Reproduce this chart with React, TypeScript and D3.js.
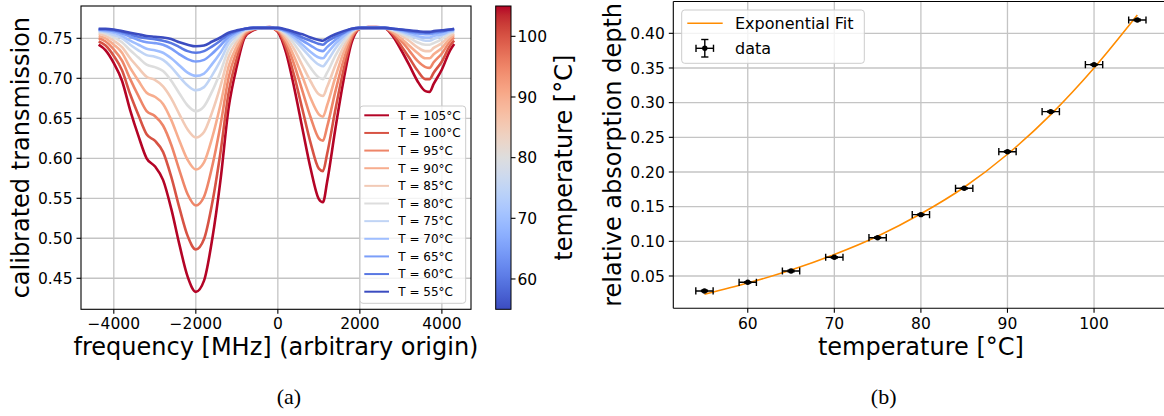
import React from 'react';
import * as d3 from 'd3';

// ---------------- data: spectra (left panel) ----------------
const FREQ = [-4370, -4200, -4000, -3800, -3600, -3400, -3200, -3000, -2800, -2600, -2400, -2200, -2000, -1800, -1600, -1400, -1200, -1000, -800, -600, -400, -200, 0, 200, 400, 600, 800, 1000, 1100, 1200, 1400, 1600, 1800, 2000, 2200, 2400, 2600, 2800, 3000, 3200, 3400, 3600, 3700, 3800, 4000, 4200, 4300];

const trans105 = [0.742, 0.735, 0.719, 0.697, 0.660, 0.628, 0.600, 0.590, 0.573, 0.537, 0.492, 0.452, 0.433, 0.447, 0.499, 0.572, 0.663, 0.715, 0.752, 0.760, 0.763, 0.764, 0.758, 0.732, 0.688, 0.637, 0.587, 0.549, 0.545, 0.570, 0.636, 0.697, 0.745, 0.762, 0.764, 0.764, 0.763, 0.753, 0.736, 0.717, 0.697, 0.684, 0.683, 0.693, 0.711, 0.735, 0.743];
const trans100 = [0.746, 0.741, 0.728, 0.710, 0.680, 0.654, 0.630, 0.622, 0.608, 0.577, 0.538, 0.503, 0.486, 0.499, 0.544, 0.607, 0.682, 0.725, 0.754, 0.761, 0.763, 0.763, 0.759, 0.738, 0.703, 0.661, 0.619, 0.587, 0.584, 0.605, 0.660, 0.710, 0.749, 0.762, 0.763, 0.763, 0.763, 0.755, 0.741, 0.726, 0.710, 0.699, 0.699, 0.707, 0.721, 0.741, 0.747];
const trans95 = [0.750, 0.746, 0.736, 0.722, 0.699, 0.678, 0.659, 0.653, 0.641, 0.617, 0.585, 0.555, 0.541, 0.552, 0.590, 0.641, 0.701, 0.734, 0.756, 0.761, 0.763, 0.763, 0.760, 0.744, 0.717, 0.684, 0.651, 0.625, 0.622, 0.639, 0.683, 0.722, 0.752, 0.762, 0.763, 0.763, 0.763, 0.757, 0.747, 0.735, 0.722, 0.714, 0.713, 0.720, 0.731, 0.746, 0.751];
const trans90 = [0.753, 0.750, 0.742, 0.732, 0.713, 0.697, 0.682, 0.677, 0.668, 0.648, 0.622, 0.598, 0.586, 0.595, 0.626, 0.667, 0.715, 0.740, 0.758, 0.762, 0.763, 0.763, 0.761, 0.748, 0.727, 0.702, 0.675, 0.655, 0.652, 0.666, 0.701, 0.732, 0.755, 0.763, 0.763, 0.763, 0.763, 0.758, 0.750, 0.741, 0.732, 0.725, 0.725, 0.730, 0.738, 0.750, 0.754];
const trans85 = [0.756, 0.753, 0.747, 0.739, 0.725, 0.713, 0.702, 0.698, 0.690, 0.675, 0.655, 0.636, 0.626, 0.633, 0.658, 0.690, 0.727, 0.746, 0.759, 0.762, 0.763, 0.763, 0.761, 0.752, 0.736, 0.716, 0.696, 0.680, 0.678, 0.689, 0.716, 0.739, 0.757, 0.763, 0.763, 0.763, 0.763, 0.760, 0.754, 0.747, 0.739, 0.734, 0.734, 0.738, 0.744, 0.753, 0.756];
const trans80 = [0.758, 0.756, 0.751, 0.745, 0.735, 0.726, 0.717, 0.714, 0.709, 0.697, 0.681, 0.666, 0.659, 0.665, 0.684, 0.708, 0.736, 0.750, 0.760, 0.762, 0.763, 0.763, 0.762, 0.755, 0.743, 0.728, 0.713, 0.701, 0.699, 0.707, 0.728, 0.745, 0.758, 0.763, 0.763, 0.763, 0.763, 0.760, 0.756, 0.751, 0.745, 0.742, 0.742, 0.744, 0.749, 0.756, 0.758];
const trans75 = [0.759, 0.758, 0.754, 0.750, 0.742, 0.735, 0.729, 0.727, 0.723, 0.714, 0.702, 0.691, 0.685, 0.689, 0.704, 0.722, 0.743, 0.754, 0.761, 0.762, 0.763, 0.763, 0.762, 0.757, 0.748, 0.737, 0.726, 0.717, 0.715, 0.721, 0.737, 0.750, 0.760, 0.763, 0.763, 0.763, 0.763, 0.761, 0.758, 0.754, 0.750, 0.747, 0.747, 0.749, 0.753, 0.758, 0.759];
const trans70 = [0.760, 0.759, 0.757, 0.753, 0.747, 0.742, 0.737, 0.735, 0.732, 0.725, 0.716, 0.707, 0.703, 0.706, 0.718, 0.732, 0.748, 0.756, 0.761, 0.763, 0.763, 0.763, 0.762, 0.758, 0.751, 0.742, 0.733, 0.726, 0.725, 0.731, 0.743, 0.753, 0.760, 0.763, 0.763, 0.763, 0.763, 0.762, 0.759, 0.756, 0.753, 0.751, 0.751, 0.753, 0.755, 0.759, 0.760];
const trans65 = [0.761, 0.760, 0.759, 0.756, 0.752, 0.748, 0.745, 0.744, 0.742, 0.737, 0.730, 0.724, 0.721, 0.723, 0.731, 0.741, 0.752, 0.758, 0.762, 0.763, 0.763, 0.763, 0.762, 0.759, 0.754, 0.747, 0.741, 0.735, 0.734, 0.739, 0.748, 0.756, 0.761, 0.763, 0.763, 0.763, 0.763, 0.762, 0.760, 0.758, 0.756, 0.755, 0.755, 0.756, 0.758, 0.760, 0.761];
const trans60 = [0.761, 0.761, 0.760, 0.758, 0.755, 0.752, 0.750, 0.749, 0.747, 0.744, 0.739, 0.734, 0.732, 0.734, 0.740, 0.747, 0.755, 0.759, 0.762, 0.763, 0.763, 0.763, 0.763, 0.760, 0.756, 0.751, 0.747, 0.743, 0.742, 0.746, 0.752, 0.757, 0.762, 0.763, 0.763, 0.763, 0.763, 0.762, 0.761, 0.759, 0.758, 0.757, 0.757, 0.758, 0.759, 0.761, 0.761];
const trans55 = [0.762, 0.762, 0.761, 0.759, 0.757, 0.755, 0.753, 0.752, 0.751, 0.749, 0.745, 0.742, 0.740, 0.741, 0.746, 0.751, 0.757, 0.760, 0.762, 0.763, 0.763, 0.763, 0.763, 0.761, 0.758, 0.755, 0.751, 0.748, 0.747, 0.750, 0.755, 0.759, 0.762, 0.763, 0.763, 0.763, 0.763, 0.762, 0.761, 0.760, 0.759, 0.758, 0.758, 0.759, 0.760, 0.761, 0.762];

const TEMPS = [105, 100, 95, 90, 85, 80, 75, 70, 65, 60, 55];
const SPECTRA = [trans105, trans100, trans95, trans90, trans85, trans80, trans75, trans70, trans65, trans60, trans55];

const LEFT_X_TICKS = [-4000, -2000, 0, 2000, 4000];
const LEFT_Y_TICKS = [0.45, 0.5, 0.55, 0.6, 0.65, 0.7, 0.75];
const CBAR_TICKS = [60, 70, 80, 90, 100];

// ---------------- data: absorption depth (right panel) ----------------
const TEMP_POINTS = [55, 60, 65, 70, 75, 80, 85, 90, 95, 100, 105];
const DEPTH = [0.0284, 0.0409, 0.0572, 0.0770, 0.1052, 0.1385, 0.1765, 0.2293, 0.2870, 0.3548, 0.4192];
const TEMP_ERR = [1, 1, 1, 1, 1, 1, 1, 1, 1, 1, 1];
const DEPTH_ERR = [0.001, 0.001, 0.001, 0.001, 0.001, 0.001, 0.001, 0.001, 0.001, 0.001, 0.001];
const FIT = [0.0236, 0.0398, 0.0586, 0.0810, 0.1073, 0.1397, 0.1780, 0.2256, 0.2828, 0.3500, 0.4264];

const RIGHT_X_TICKS = [60, 70, 80, 90, 100];
const RIGHT_Y_TICKS = [0.05, 0.1, 0.15, 0.2, 0.25, 0.3, 0.35, 0.4];

// coolwarm colormap control colours
const COOLWARM = ['#3b4cc0', '#445acc', '#4d68d7', '#5775e1', '#6282ea', '#6c8ef1', '#779af7', '#82a5fb', '#8db0fe', '#98b9ff', '#a3c2ff', '#aec9fd', '#b8d0f9', '#c2d5f4', '#ccd9ee', '#d5dbe6', '#dddddd', '#e5d8d1', '#ecd3c5', '#f1ccb8', '#f5c4ac', '#f7bb9f', '#f7b194', '#f7a686', '#f49a7b', '#f18d6f', '#ec7f63', '#e57058', '#de604d', '#d55042', '#cb3e38', '#c0282f', '#b40426'];
const coolwarm = d3.piecewise(d3.interpolateRgb, COOLWARM);

const FONT = "'DejaVu Sans', sans-serif";
const TICK_FS = 15.5;
const LABEL_FS = 24;
const GRID = '#c4c4c4';
const fmtTick = (v: number) => (v < 0 ? '\u2212' + Math.abs(v) : String(v));

export default function App() {
  // left axes
  const L = { x0: 81, x1: 471, y0: 6, y1: 309.3 };
  const xL = d3.scaleLinear().domain([-4800, 4710]).range([L.x0, L.x1]);
  const yL = d3.scaleLinear().domain([0.4112, 0.7904]).range([L.y1, L.y0]);
  const tNorm = d3.scaleLinear().domain([55, 105]).range([0, 1]);

  // colorbar
  const CB = { x0: 495.7, x1: 511, y0: 6, y1: 309.3 };
  const yCB = d3.scaleLinear().domain([55, 105]).range([CB.y1, CB.y0]);

  // right axes
  const R = { x0: 673.3, x1: 1168.5, y0: 1.5, y1: 308.3 };
  const xR = d3.scaleLinear().domain([51.4, 108.6]).range([R.x0, R.x1]);
  const yR = d3.scaleLinear().domain([0.0034, 0.4459]).range([R.y1, R.y0]);

  const specLine = d3
    .line<number>()
    .x((_, i) => xL(FREQ[i]))
    .y((d) => yL(d))
    .curve(d3.curveMonotoneX);

  const fitLine = d3
    .line<number>()
    .x((_, i) => xR(TEMP_POINTS[i]))
    .y((d) => yR(d))
    .curve(d3.curveMonotoneX);

  const legendL = { x: 360, y: 106, w: 105.7, h: 197.3, row0: 115.3, dy: 17.64 };

  return (
    <svg width={1164} height={416} style={{ position: 'absolute', left: 0, top: 0, background: '#fff' }} fontFamily={FONT}>
      <defs>
        <clipPath id="clipL">
          <rect x={L.x0} y={L.y0} width={L.x1 - L.x0} height={L.y1 - L.y0} />
        </clipPath>
        <clipPath id="clipR">
          <rect x={R.x0} y={R.y0} width={R.x1 - R.x0} height={R.y1 - R.y0} />
        </clipPath>
        <linearGradient id="cbGrad" x1="0" y1="1" x2="0" y2="0">
          {d3.range(0, 65).map((i) => (
            <stop key={i} offset={i / 64} stopColor={coolwarm(i / 64)} />
          ))}
        </linearGradient>
      </defs>

      {/* ---------------- LEFT PANEL ---------------- */}
      <g>
        {LEFT_X_TICKS.map((t) => (
          <line key={'gx' + t} x1={xL(t)} x2={xL(t)} y1={L.y0} y2={L.y1} stroke={GRID} strokeWidth={1.3} />
        ))}
        {LEFT_Y_TICKS.map((t) => (
          <line key={'gy' + t} x1={L.x0} x2={L.x1} y1={yL(t)} y2={yL(t)} stroke={GRID} strokeWidth={1.3} />
        ))}
        <g clipPath="url(#clipL)">
          {SPECTRA.map((s, k) => (
            <path key={TEMPS[k]} d={specLine(s) || ''} fill="none" stroke={coolwarm(tNorm(TEMPS[k]))} strokeWidth={2.6} strokeLinejoin="round" />
          ))}
        </g>
        <rect x={L.x0} y={L.y0} width={L.x1 - L.x0} height={L.y1 - L.y0} fill="none" stroke="#000" strokeWidth={1.1} />
        {LEFT_X_TICKS.map((t) => (
          <g key={'tx' + t}>
            <line x1={xL(t)} x2={xL(t)} y1={L.y1} y2={L.y1 + 4.5} stroke="#000" strokeWidth={1.1} />
            <text x={xL(t)} y={329} fontSize={TICK_FS} textAnchor="middle" fill="#000">{fmtTick(t)}</text>
          </g>
        ))}
        {LEFT_Y_TICKS.map((t) => (
          <g key={'ty' + t}>
            <line x1={L.x0 - 4.5} x2={L.x0} y1={yL(t)} y2={yL(t)} stroke="#000" strokeWidth={1.1} />
            <text x={L.x0 - 8.5} y={yL(t)} dy="0.36em" fontSize={TICK_FS} textAnchor="end" fill="#000">{t.toFixed(2)}</text>
          </g>
        ))}
        <text x={(L.x0 + L.x1) / 2} y={355} fontSize={LABEL_FS} textAnchor="middle" fill="#000">frequency [MHz] (arbitrary origin)</text>
        <text transform={`translate(28.5,${(L.y0 + L.y1) / 2}) rotate(-90)`} fontSize={LABEL_FS} textAnchor="middle" fill="#000">calibrated transmission</text>

        {/* legend */}
        <rect x={legendL.x} y={legendL.y} width={legendL.w} height={legendL.h} rx={3} fill="#fff" fillOpacity={0.8} stroke="#cccccc" strokeWidth={1} />
        {TEMPS.map((T, i) => {
          const y = legendL.row0 + i * legendL.dy;
          return (
            <g key={'lg' + T}>
              <line x1={364.3} x2={389} y1={y} y2={y} stroke={coolwarm(tNorm(T))} strokeWidth={2} />
              <text x={398.3} y={y} dy="0.36em" fontSize={12} fill="#000">{`T = ${T}°C`}</text>
            </g>
          );
        })}

        {/* colorbar */}
        <rect x={CB.x0} y={CB.y0} width={CB.x1 - CB.x0} height={CB.y1 - CB.y0} fill="url(#cbGrad)" stroke="#000" strokeWidth={1} />
        {CBAR_TICKS.map((t) => (
          <g key={'cb' + t}>
            <line x1={CB.x1} x2={CB.x1 + 4.5} y1={yCB(t)} y2={yCB(t)} stroke="#000" strokeWidth={1.1} />
            <text x={CB.x1 + 6.5} y={yCB(t)} dy="0.36em" fontSize={TICK_FS} fill="#000">{t}</text>
          </g>
        ))}
        <text transform={`translate(572,${(CB.y0 + CB.y1) / 2}) rotate(-90)`} fontSize={LABEL_FS} textAnchor="middle" fill="#000">temperature [°C]</text>
      </g>

      {/* ---------------- RIGHT PANEL ---------------- */}
      <g>
        {RIGHT_X_TICKS.map((t) => (
          <line key={'rgx' + t} x1={xR(t)} x2={xR(t)} y1={R.y0} y2={R.y1} stroke={GRID} strokeWidth={1.3} />
        ))}
        {RIGHT_Y_TICKS.map((t) => (
          <line key={'rgy' + t} x1={R.x0} x2={R.x1} y1={yR(t)} y2={yR(t)} stroke={GRID} strokeWidth={1.3} />
        ))}
        <g clipPath="url(#clipR)">
          <path d={fitLine(FIT) || ''} fill="none" stroke="#ff8c00" strokeWidth={1.6} />
          {TEMP_POINTS.map((T, i) => {
            const cx = xR(T);
            const cy = yR(DEPTH[i]);
            const xa = xR(T - TEMP_ERR[i]);
            const xb = xR(T + TEMP_ERR[i]);
            const ya = yR(DEPTH[i] - DEPTH_ERR[i]);
            const yb = yR(DEPTH[i] + DEPTH_ERR[i]);
            return (
              <g key={'pt' + T} stroke="#000" strokeWidth={1.4}>
                <line x1={xa} x2={xb} y1={cy} y2={cy} />
                <line x1={xa} x2={xa} y1={cy - 3.6} y2={cy + 3.6} />
                <line x1={xb} x2={xb} y1={cy - 3.6} y2={cy + 3.6} />
                <line x1={cx} x2={cx} y1={ya} y2={yb} />
                <line x1={cx - 3.6} x2={cx + 3.6} y1={ya} y2={ya} />
                <line x1={cx - 3.6} x2={cx + 3.6} y1={yb} y2={yb} />
                <circle cx={cx} cy={cy} r={2.7} fill="#000" stroke="none" />
              </g>
            );
          })}
        </g>
        <line x1={R.x0} x2={R.x0} y1={R.y0} y2={R.y1} stroke="#000" strokeWidth={1.1} />
        <line x1={R.x0} x2={1164} y1={R.y1} y2={R.y1} stroke="#000" strokeWidth={1.1} />
        <line x1={R.x0} x2={1164} y1={R.y0} y2={R.y0} stroke="#000" strokeWidth={1.1} />
        {RIGHT_X_TICKS.map((t) => (
          <g key={'rtx' + t}>
            <line x1={xR(t)} x2={xR(t)} y1={R.y1} y2={R.y1 + 4.5} stroke="#000" strokeWidth={1.1} />
            <text x={xR(t)} y={329} fontSize={TICK_FS} textAnchor="middle" fill="#000">{t}</text>
          </g>
        ))}
        {RIGHT_Y_TICKS.map((t) => (
          <g key={'rty' + t}>
            <line x1={R.x0 - 4.5} x2={R.x0} y1={yR(t)} y2={yR(t)} stroke="#000" strokeWidth={1.1} />
            <text x={R.x0 - 8.5} y={yR(t)} dy="0.36em" fontSize={TICK_FS} textAnchor="end" fill="#000">{t.toFixed(2)}</text>
          </g>
        ))}
        <text x={(R.x0 + R.x1) / 2} y={355} fontSize={LABEL_FS} textAnchor="middle" fill="#000">temperature [°C]</text>
        <text transform={`translate(621,${(R.y0 + R.y1) / 2}) rotate(-90)`} fontSize={LABEL_FS} textAnchor="middle" fill="#000">relative absorption depth</text>

        {/* legend */}
        <rect x={681.7} y={10} width={182.6} height={53.3} rx={3} fill="#fff" fillOpacity={0.8} stroke="#cccccc" strokeWidth={1} />
        <line x1={687.3} x2={722.7} y1={23.3} y2={23.3} stroke="#ff8c00" strokeWidth={1.6} />
        <text x={735} y={23.3} dy="0.36em" fontSize={16} fill="#000">Exponential Fit</text>
        <g stroke="#000" strokeWidth={1.4}>
          <line x1={696} x2={713.5} y1={48.3} y2={48.3} />
          <line x1={696} x2={696} y1={44.7} y2={51.9} />
          <line x1={713.5} x2={713.5} y1={44.7} y2={51.9} />
          <line x1={704.8} x2={704.8} y1={39.5} y2={57} />
          <line x1={701.2} x2={708.4} y1={39.5} y2={39.5} />
          <line x1={701.2} x2={708.4} y1={57} y2={57} />
          <circle cx={704.8} cy={48.3} r={2.7} fill="#000" stroke="none" />
        </g>
        <text x={735} y={48.3} dy="0.36em" fontSize={16} fill="#000">data</text>
      </g>

      {/* captions */}
      <text x={289} y={404} fontSize={22} textAnchor="middle" fontFamily="'Liberation Serif', 'Times New Roman', serif" fill="#000">(a)</text>
      <text x={883.7} y={404} fontSize={22} textAnchor="middle" fontFamily="'Liberation Serif', 'Times New Roman', serif" fill="#000">(b)</text>
    </svg>
  );
}
